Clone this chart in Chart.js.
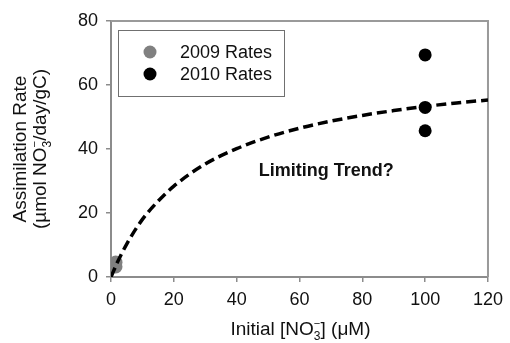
<!DOCTYPE html>
<html>
<head>
<meta charset="utf-8">
<script src="https://cdn.jsdelivr.net/npm/chart.js@4.4.1/dist/chart.umd.min.js"></script>
<style>
html,body{margin:0;padding:0;background:#fff;}
#wrap{width:510px;height:343px;position:relative;}
</style>
</head>
<body>
<div id="wrap"><canvas id="c" width="510" height="343"></canvas></div>
<script>
// ---- data ----
const xTicks = [0, 20, 40, 60, 80, 100, 120];
const yTicks = [0, 20, 40, 60, 80];
const rates2009X = [1.5, 1.5];
const rates2009Y = [3.2, 4.6];
const rates2010X = [100, 100, 100];
const rates2010Y = [69.4, 53.0, 45.7];
const trendX = [0, 2, 5, 10, 15, 20, 30, 40, 50, 60, 70, 80, 90, 100, 110, 120];
const trendY = [0, 4.5, 10.3, 18.0, 23.7, 28.4, 35.3, 40.1, 43.7, 46.5, 48.7, 50.5, 52.0, 53.3, 54.4, 55.3];
const seriesNames = ['2009 Rates', '2010 Rates', 'Limiting Trend'];
const annotationText = 'Limiting Trend?';

const FONT = '"Liberation Sans", Arial, Helvetica, sans-serif';
const AXIS_COLOR = '#8c8c8c';
const GRAY_PT = '#808080';

function pts(xs, ys){ return xs.map((x,i)=>({x:x, y:ys[i]})); }

function drawRich(ctx, segs, x, y){
  let widths = [];
  segs.forEach((s)=>{
    ctx.font = (s.bold?'bold ':'') + s.size + 'px ' + FONT;
    widths.push(ctx.measureText(s.t).width);
  });
  let pos = [], cur = 0, prevStart = 0, prevW = 0;
  segs.forEach((s,i)=>{
    if (s.stack){
      pos.push(prevStart);
      prevW = Math.max(prevW, widths[i]);
      cur = prevStart + prevW;
    } else {
      pos.push(cur);
      prevStart = cur; prevW = widths[i];
      cur += widths[i];
    }
  });
  const x0 = x - cur/2;
  ctx.textAlign = 'left';
  ctx.textBaseline = 'alphabetic';
  segs.forEach((s,i)=>{
    ctx.font = (s.bold?'bold ':'') + s.size + 'px ' + FONT;
    ctx.fillText(s.t, x0 + pos[i], y + (s.dy||0));
  });
}

const decor = {
  id: 'decor',
  beforeDatasetsDraw(chart){
    const ctx = chart.ctx, a = chart.chartArea;
    ctx.save();
    ctx.strokeStyle = '#9a9a9a';
    ctx.lineWidth = 2;
    ctx.beginPath();
    ctx.moveTo(a.left, a.top); ctx.lineTo(a.right, a.top); ctx.lineTo(a.right, a.bottom);
    ctx.stroke();
    ctx.restore();
  },
  afterDraw(chart){
    const ctx = chart.ctx, a = chart.chartArea;
    const xs = chart.scales.x, ys = chart.scales.y;
    ctx.save();
    ctx.fillStyle = '#111';
    // x title
    drawRich(ctx, [
      {t:'Initial [NO', size:19},
      {t:'3', size:12, dy:5},
      {t:'\u2212', size:11, dy:-8, stack:true},
      {t:'] (\u03bcM)', size:19}
    ], (a.left + a.right)/2 + 1, 335);
    // y title (rotated)
    ctx.save();
    ctx.translate(0, (a.top + a.bottom)/2);
    ctx.rotate(-Math.PI/2);
    drawRich(ctx, [{t:'Assimilation Rate', size:19}], 0, 26);
    drawRich(ctx, [
      {t:'(\u00b5mol NO', size:19},
      {t:'3', size:12, dy:5},
      {t:'\u2212', size:11, dy:-8, stack:true},
      {t:'/day/gC)', size:19}
    ], 0, 46);
    ctx.restore();
    // legend box
    ctx.strokeStyle = '#707070';
    ctx.lineWidth = 1;
    ctx.strokeRect(118.5, 30.5, 166, 66);
    const items = [
      {name: chart.data.datasets[0].label, color: chart.data.datasets[0].backgroundColor, y: 52},
      {name: chart.data.datasets[1].label, color: chart.data.datasets[1].backgroundColor, y: 74}
    ];
    items.forEach(it=>{
      ctx.fillStyle = it.color;
      ctx.beginPath(); ctx.arc(150, it.y, 6.5, 0, Math.PI*2); ctx.fill();
      ctx.fillStyle = '#111';
      ctx.font = '18px ' + FONT;
      ctx.textAlign = 'left'; ctx.textBaseline = 'middle';
      ctx.fillText(it.name, 180, it.y + 1);
    });
    // annotation
    ctx.fillStyle = '#111';
    ctx.font = 'bold 18px ' + FONT;
    ctx.textAlign = 'left'; ctx.textBaseline = 'alphabetic';
    ctx.fillText(annotationText, xs.getPixelForValue(47), ys.getPixelForValue(31.6));
    ctx.restore();
  }
};

new Chart(document.getElementById('c'), {
  type: 'scatter',
  data: {
    datasets: [
      {label: seriesNames[0], data: pts(rates2009X, rates2009Y), backgroundColor: GRAY_PT, borderColor: GRAY_PT,
       pointRadius: 6.8, pointBorderWidth: 0, order: 3},
      {label: seriesNames[1], data: pts(rates2010X, rates2010Y), backgroundColor: '#000', borderColor: '#000',
       pointRadius: 6.5, pointBorderWidth: 0, order: 1},
      {label: seriesNames[2], data: pts(trendX, trendY), showLine: true, borderColor: '#000', backgroundColor: '#000',
       borderWidth: 3.5, borderDash: [10, 5], pointRadius: 0, tension: 0.4, cubicInterpolationMode: 'monotone',
       order: 2}
    ]
  },
  options: {
    responsive: false,
    animation: false,
    devicePixelRatio: 1,
    layout: {padding: {left: 0, right: 19, top: 21, bottom: 0}},
    plugins: {legend: {display: false}, tooltip: {enabled: false}},
    scales: {
      x: {
        type: 'linear', min: 0, max: 120,
        afterBuildTicks(s){ s.ticks = xTicks.map(v=>({value:v})); },
        afterFit(s){ s.height = 66; },
        ticks: {color: '#111', font: {family: FONT, size: 18}, padding: 7, maxRotation: 0, autoSkip: false},
        grid: {display: true, drawOnChartArea: false, drawTicks: true, tickLength: 5, color: AXIS_COLOR, lineWidth: 1.5},
        border: {display: true, color: AXIS_COLOR, width: 2}
      },
      y: {
        type: 'linear', min: 0, max: 80,
        afterBuildTicks(s){ s.ticks = yTicks.map(v=>({value:v})); },
        afterFit(s){ s.width = 111; },
        ticks: {color: '#111', font: {family: FONT, size: 18}, padding: 8, autoSkip: false},
        grid: {display: true, drawOnChartArea: false, drawTicks: true, tickLength: 5, color: AXIS_COLOR, lineWidth: 1.5},
        border: {display: true, color: AXIS_COLOR, width: 2}
      }
    }
  },
  plugins: [decor]
});
</script>
</body>
</html>
